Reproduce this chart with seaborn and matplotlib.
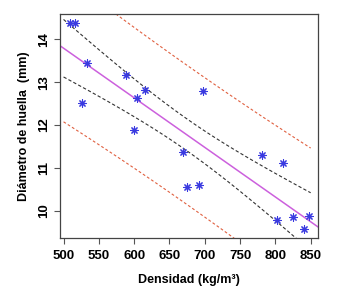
import numpy as np
import pandas as pd
import matplotlib
matplotlib.use("Agg")
import matplotlib.pyplot as plt
from matplotlib import font_manager as fm
import seaborn as sns

densidad = [508.9, 516.0, 532.6, 525.5, 588.7, 603.9, 615.2, 600.1, 697.8,
            669.0, 675.1, 691.7, 780.4, 810.3, 801.8, 824.9, 847.2, 840.1]
diametro = [14.38, 14.38, 13.46, 12.51, 13.17, 12.64, 12.81, 11.89, 12.79,
            11.37, 10.56, 10.60, 11.30, 11.10, 9.78, 9.86, 9.88, 9.56]
x_ticks = [500, 550, 600, 650, 700, 750, 800, 850]
y_ticks = [10, 11, 12, 13, 14]

sns.set_theme(style="white")
plt.rcParams['font.family'] = ['Liberation Sans', 'DejaVu Sans']

bold_path = None
for f in fm.findSystemFonts():
    if f.endswith('LiberationSans-Bold.ttf'):
        bold_path = f
        break
if bold_path:
    fp = fm.FontProperties(fname=bold_path, size=9)
    fpt = fm.FontProperties(fname=bold_path, size=9.5)
else:
    fp = fm.FontProperties(family='Liberation Sans', weight='bold', size=9)
    fpt = fm.FontProperties(family='Liberation Sans', weight='bold', size=9.5)

x = np.array(densidad)
y = np.array(diametro)
n = len(x)
b1, b0 = np.polyfit(x, y, 1)
resid = y - (b0 + b1 * x)
s = np.sqrt(np.sum(resid ** 2) / (n - 2))
sxx = np.sum((x - x.mean()) ** 2)
t = 2.1199  # t(0.975, 16)

xg = np.linspace(500, 850, 100)
yg = b0 + b1 * xg
se_m = s * np.sqrt(1 / n + (xg - x.mean()) ** 2 / sxx)
se_p = s * np.sqrt(1 + 1 / n + (xg - x.mean()) ** 2 / sxx)
xl = np.linspace(495, 862, 50)

fig = plt.figure(figsize=(3.45, 2.97), dpi=100)
ax = fig.add_axes([0.175, 0.199, 0.748, 0.753])

sns.lineplot(x=xg, y=yg - t * se_p, ax=ax, color='#e06040', lw=0.8, ls=(0, (2.5, 2)))
sns.lineplot(x=xg, y=yg + t * se_p, ax=ax, color='#e06040', lw=0.8, ls=(0, (2.5, 2)))
sns.lineplot(x=xg, y=yg - t * se_m, ax=ax, color='#333333', lw=0.8, ls=(0, (3, 2)))
sns.lineplot(x=xg, y=yg + t * se_m, ax=ax, color='#333333', lw=0.8, ls=(0, (3, 2)))
sns.lineplot(x=xl, y=b0 + b1 * xl, ax=ax, color='#cc60dd', lw=1.1)
sns.scatterplot(x=x, y=y, ax=ax, marker=(8, 2, 0), s=28, color='#3a3ae0',
                edgecolor='#3a3ae0', linewidth=0.8, zorder=5)

ax.set_xlim(495.5, 861)
ax.set_ylim(9.36, 14.59)
ax.set_xticks(x_ticks)
ax.set_yticks(y_ticks)
ax.set_xticklabels([str(v) for v in x_ticks], fontproperties=fpt, color='black')
ax.set_yticklabels([str(v) for v in y_ticks], fontproperties=fpt, color='black',
                   rotation=90, va='center')
ax.tick_params(axis='both', direction='out', length=4.5, width=0.8, color='#555555',
               bottom=True, left=True)
ax.tick_params(axis='x', pad=4.5)
ax.tick_params(axis='y', pad=3)
for sp in ax.spines.values():
    sp.set_color('#444444')
    sp.set_linewidth(0.9)
ax.set_xlabel('Densidad (kg/m³)', fontproperties=fp, color='black', labelpad=8.5)
ax.set_ylabel('Diámetro de huella  (mm)', fontproperties=fp, color='black', labelpad=6)

fig.savefig('out.png', dpi=100)
